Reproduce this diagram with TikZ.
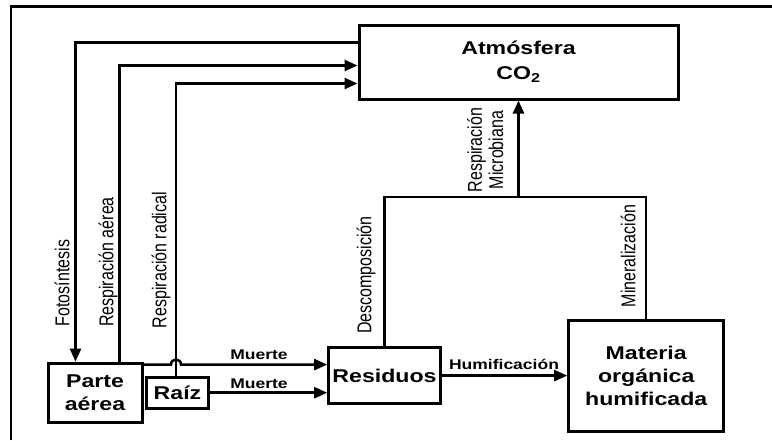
\documentclass[tikz,border=0pt]{standalone}
\usepackage{fontspec}
\usepackage{graphicx}
\setmainfont{Liberation Sans}
\newfontfamily\wfont[FakeStretch=1.25]{Liberation Sans}
\usetikzlibrary{arrows.meta,calc}
\tikzset{
  box/.style={draw, line width=3pt, align=center, inner sep=0pt,
    font=\wfont\bfseries\fontsize{18.5}{23}\selectfont},
  arr/.style={line width=2.5pt, -{Triangle[length=13pt,width=11pt]}},
  ln/.style={line width=2.5pt},
  hlab/.style={inner sep=0pt, font=\wfont\bfseries\fontsize{14}{16}\selectfont},
  vlab/.style={inner sep=0pt, rotate=90, font=\fontsize{16}{18}\selectfont},
}
\begin{document}
\begin{tikzpicture}[x=1pt,y=-1pt]
\useasboundingbox (0,0) rectangle (772,440);
% frame
\draw[line width=2.5pt] (11,440) -- (11,6.5) -- (772,6.5);
% boxes
\node[box, minimum width=319pt, minimum height=74pt] (atm) at (518.5,62) {Atmósfera\\[2pt]CO\textsubscript{2}};
\node[box, minimum width=94pt, minimum height=59pt] (parte) at (95,392.6) {Parte\\aérea};
\node[box, minimum width=61.6pt, minimum height=30.7pt] (raiz) at (177.5,392.7) {Raíz};
\node[box, minimum width=111.6pt, minimum height=55.8pt] (res) at (384.5,375.6) {Residuos};
\node[box, minimum width=155pt, minimum height=111.3pt] (mat) at (646.2,375.7) {Materia\\orgánica\\humificada};
% coordinates
\coordinate (fa) at ([yshift=-19pt]atm.north west);
\coordinate (fp) at ([xshift=29pt]parte.north west);
\coordinate (ra) at ([yshift=-42pt]atm.north west);
\coordinate (rp) at ([xshift=73pt]parte.north west);
\coordinate (rra) at ([yshift=-60pt]atm.north west);
\coordinate (rr) at ([xshift=-1.5pt]raiz.north);
\coordinate (m1) at ([yshift=-3pt]parte.north east);
\coordinate (j) at (atm.south |- 0,197);
% connectors
\draw[arr] (fa) -| (fp);
\draw[arr] (rp) |- (ra);
\draw[arr] (rr) |- (rra);
\draw[arr] (m1) -- ($(m1 -| rr)+(-5,0)$) .. controls ($(m1 -| rr)+(-5,-6.7)$) and ($(m1 -| rr)+(5,-6.7)$) .. ($(m1 -| rr)+(5,0)$) -- (m1 -| res.west);
\draw[arr] (raiz.east) -- (raiz.east -| res.west);
\draw[arr] (res.east) -- (res.east -| mat.west);
\draw[ln] (res.north) |- (j) -| (mat.north);
\draw[arr] (j) -- (atm.south);
% labels
\node[hlab] (lm1) at (259,355) {Muerte};
\node[hlab] (lm2) at (259,384) {Muerte};
\node[hlab] (lh) at (504,364) {Humificación};
\node[vlab] (lf) at (62,283) {\scalebox{1}[1.25]{Fotosíntesis}};
\node[vlab] (lra) at (108,262) {\scalebox{1}[1.25]{Respiración aérea}};
\node[vlab] (lrr) at (161,260) {\scalebox{1}[1.25]{Respiración radical}};
\node[vlab] (ld) at (366,275) {\scalebox{1}[1.25]{Descomposición}};
\node[vlab] (lmi) at (628,256) {\scalebox{1}[1.25]{Mineralización}};
\node[vlab] (lrm) at (488,150) {\scalebox{1}[1.25]{\begin{tabular}{@{}c@{}}Respiración\\[-1pt]Microbiana\end{tabular}}};
\end{tikzpicture}
\end{document}
